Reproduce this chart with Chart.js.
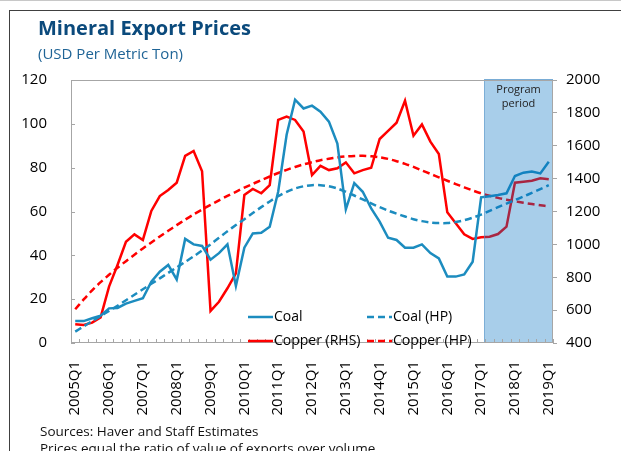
<!DOCTYPE html>
<html>
<head>
<meta charset="utf-8">
<script src="https://cdn.jsdelivr.net/npm/chart.js@4.4.1/dist/chart.umd.min.js"></script>
<style>
  html, body { margin: 0; padding: 0; background: #fff; }
  #wrap { position: relative; width: 621px; height: 451px; overflow: hidden; font-family: 'Open Sans', sans-serif; }
  #frame { position: absolute; left: 9px; top: 10px; width: 640px; height: 460px; border-top: 1px solid #404040; border-left: 1px solid #404040; }
  #topline { position: absolute; left: 0; top: 0; width: 621px; height: 1px; background: #c8c8c8; }
  canvas { position: absolute; left: 0; top: 0; }
  .txt { position: absolute; white-space: nowrap; }
  #title { left: 38px; top: 18px; font-size: 20px; line-height: 20px; font-weight: 700; color: #0b4a7c; }
  #subtitle { left: 38px; top: 46px; font-size: 15px; line-height: 15px; color: #1f6496; }
  #footer { left: 40px; top: 423px; font-size: 13.5px; line-height: 16.5px; color: #111; }
</style>
</head>
<body>
<div id="wrap">
  <div id="topline"></div>
  <div id="frame"></div>
  <canvas id="mineralChart" width="621" height="451"></canvas>
  <div class="txt" id="title">Mineral Export Prices</div>
  <div class="txt" id="subtitle">(USD Per Metric Ton)</div>
  <div class="txt" id="footer">Sources: Haver and Staff Estimates<br>Prices equal the ratio of value of exports over volume.</div>
</div>
<script>
// Categories: 2005Q1 .. 2019Q1
const years = [2005, 2006, 2007, 2008, 2009, 2010, 2011, 2012, 2013, 2014, 2015, 2016, 2017, 2018, 2019];
const quarters = [];
years.forEach(y => {
    for (let q = 1; q <= 4; q++) {
        if (y === 2019 && q > 1) break;
        quarters.push(y + 'Q' + q);
    }
});

// Coal, USD per metric ton (left axis)
const coal = [10.0, 10.0, 11.3, 12.5, 15.8, 16.0, 18.0, 19.2, 20.4, 28.0, 32.5, 35.6, 29.0, 47.5, 45.0, 44.3,
    38.0, 41.0, 45.0, 26.0, 43.5, 50.0, 50.3, 53.0, 69.0, 95.0, 111.0, 107.0, 108.3, 105.5, 101.0, 91.0,
    61.0, 73.0, 69.0, 61.4, 55.4, 48.0, 47.0, 43.5, 43.5, 45.0, 41.0, 38.6, 30.3, 30.3, 31.3, 37.1,
    66.5, 67.0, 67.5, 68.3, 76.2, 77.7, 78.2, 77.4, 82.7];

// Coal HP trend (left axis)
const coalHp = [5.2, 7.6, 10.0, 12.3, 14.6, 17.0, 19.5, 22.0, 24.5, 27.0, 29.5, 32.0, 34.5, 37.0, 39.5, 42.2,
    45.0, 48.0, 51.0, 53.8, 56.5, 59.3, 62.0, 64.6, 67.0, 69.0, 70.5, 71.5, 72.0, 72.0, 71.5, 70.5,
    69.0, 67.3, 65.5, 63.7, 62.0, 60.4, 59.0, 57.7, 56.5, 55.6, 55.0, 54.7, 54.7, 55.2, 56.0, 57.2,
    58.6, 60.3, 62.0, 63.6, 65.2, 66.8, 68.5, 70.2, 72.0];

// Copper, USD per metric ton (right axis)
const copper = [514, 510, 524, 556, 743, 875, 1016, 1061, 1027, 1203, 1294, 1331, 1375, 1538, 1568, 1445,
    595, 651, 733, 824, 1300, 1337, 1311, 1361, 1757, 1777, 1757, 1686, 1422, 1478, 1452, 1463,
    1499, 1432, 1452, 1466, 1641, 1690, 1740, 1874, 1661, 1730, 1625, 1550, 1195, 1128, 1061, 1033,
    1043, 1047, 1063, 1108, 1375, 1381, 1387, 1402, 1396];

// Copper HP trend (right axis)
const copperHp = [605, 665, 720, 770, 815, 858, 898, 937, 975, 1012, 1048, 1083, 1117, 1150, 1182, 1212,
    1240, 1268, 1295, 1320, 1345, 1368, 1391, 1413, 1434, 1453, 1471, 1487, 1500, 1512, 1521, 1529,
    1535, 1538, 1539, 1536, 1530, 1520, 1506, 1490, 1471, 1450, 1429, 1408, 1387, 1367, 1347, 1328,
    1311, 1296, 1283, 1272, 1262, 1253, 1245, 1238, 1231];

const programStart = '2017Q1';

const BLUE = '#1c8cbf';
const RED = '#ff0000';
const AXIS = '#a6a6a6';

Chart.defaults.font.family = "'Open Sans', sans-serif";
Chart.defaults.color = '#000';

// shaded program period, plot box, inward ticks, legend
const framePlugin = {
    id: 'framePlugin',
    afterDatasetsDraw(chart) {
        const { ctx, chartArea: a, scales: { x, y } } = chart;
        const i0 = quarters.indexOf(programStart);
        const p0 = x.getPixelForValue(i0), p1 = x.getPixelForValue(i0 + 1);
        const left = p0 + (p1 - p0) * 0.35;
        ctx.save();
        ctx.fillStyle = 'rgba(0, 112, 192, 0.34)';
        ctx.fillRect(left, a.top - 1, a.right - left, a.bottom - a.top + 1);
        ctx.strokeStyle = 'rgba(90, 150, 200, 0.6)';
        ctx.lineWidth = 1;
        ctx.strokeRect(Math.round(left) + 0.5, a.top - 0.5, a.right - Math.round(left) - 1, a.bottom - a.top);

        ctx.fillStyle = '#222';
        ctx.font = "11px 'Open Sans', sans-serif";
        ctx.textAlign = 'center';
        ctx.textBaseline = 'middle';
        const cx = (left + a.right) / 2;
        ctx.fillText('Program', cx, a.top + 10);
        ctx.fillText('period', cx, a.top + 24);

        // box
        ctx.strokeStyle = AXIS;
        ctx.strokeRect(a.left + 0.5, a.top + 0.5, a.right - a.left - 1, a.bottom - a.top - 1);

        // inward ticks on the category axis
        ctx.beginPath();
        for (let i = 0; i <= quarters.length; i++) {
            let px;
            if (i === 0) px = a.left;
            else if (i === quarters.length) px = a.right;
            else px = (x.getPixelForValue(i - 1) + x.getPixelForValue(i)) / 2;
            px = Math.round(px) + 0.5;
            ctx.moveTo(px, a.bottom);
            ctx.lineTo(px, a.bottom - 4);
        }
        // inward ticks on left axis
        for (let v = 0; v <= 120; v += 20) {
            const py = Math.round(y.getPixelForValue(v)) + 0.5;
            ctx.moveTo(a.left, py);
            ctx.lineTo(a.left + 4, py);
        }
        ctx.stroke();
        ctx.restore();
    },
    afterDraw(chart) {
        const { ctx } = chart;
        const cols = [248, 367];
        const rows = [317, 341];
        const ds = chart.data.datasets;
        ctx.save();
        ctx.font = "14px 'Open Sans', sans-serif";
        ctx.textBaseline = 'middle';
        ctx.textAlign = 'left';
        ds.forEach((d, i) => {
            const cx = cols[i % 2], cy = rows[Math.floor(i / 2)];
            ctx.strokeStyle = d.borderColor;
            ctx.lineWidth = 2.5;
            ctx.setLineDash(d.borderDash || []);
            ctx.beginPath();
            ctx.moveTo(cx, cy);
            ctx.lineTo(cx + 25, cy);
            ctx.stroke();
            ctx.setLineDash([]);
            ctx.fillStyle = '#000';
            ctx.fillText(d.label, cx + 26, cy);
        });
        ctx.restore();
    }
};

const ctx = document.getElementById('mineralChart').getContext('2d');
const chart = new Chart(ctx, {
    type: 'line',
    data: {
        labels: quarters,
        datasets: [{
            label: 'Coal',
            data: coal,
            yAxisID: 'y',
            borderColor: BLUE,
            borderWidth: 2.5,
            pointRadius: 0,
            tension: 0
        }, {
            label: 'Coal (HP)',
            data: coalHp,
            yAxisID: 'y',
            borderColor: BLUE,
            borderWidth: 2.5,
            borderDash: [7, 4],
            pointRadius: 0,
            tension: 0.3
        }, {
            label: 'Copper (RHS)',
            data: copper,
            yAxisID: 'y1',
            borderColor: RED,
            borderWidth: 2.5,
            pointRadius: 0,
            tension: 0
        }, {
            label: 'Copper (HP)',
            data: copperHp,
            yAxisID: 'y1',
            borderColor: RED,
            borderWidth: 2.5,
            borderDash: [7, 4],
            pointRadius: 0,
            tension: 0.3
        }]
    },
    options: {
        responsive: false,
        animation: false,
        layout: { padding: { top: 80, left: 0, right: 0, bottom: 0 } },
        plugins: { legend: { display: false }, tooltip: { enabled: false } },
        scales: {
            x: {
                type: 'category',
                offset: true,
                grid: { display: false },
                border: { display: false },
                ticks: {
                    autoSkip: false,
                    minRotation: 90,
                    maxRotation: 90,
                    padding: 10,
                    font: { size: 15 },
                    callback: (v, i) => (i % 4 === 0 ? quarters[i] : '')
                },
                afterFit: s => { s.height = 108; }
            },
            y: {
                position: 'left',
                min: 0,
                max: 120,
                grid: { display: false },
                border: { display: false },
                ticks: { stepSize: 20, padding: 16, font: { size: 15 }, callback: v => String(v) },
                afterFit: s => { s.width = 71; }
            },
            y1: {
                position: 'right',
                min: 400,
                max: 2000,
                grid: { display: true, drawOnChartArea: false, drawTicks: true, tickLength: 4, color: AXIS },
                border: { display: false },
                ticks: { stepSize: 200, padding: 9, font: { size: 15 }, callback: v => String(v) },
                afterFit: s => { s.width = 68; }
            }
        }
    },
    plugins: [framePlugin]
});
</script>
</body>
</html>
